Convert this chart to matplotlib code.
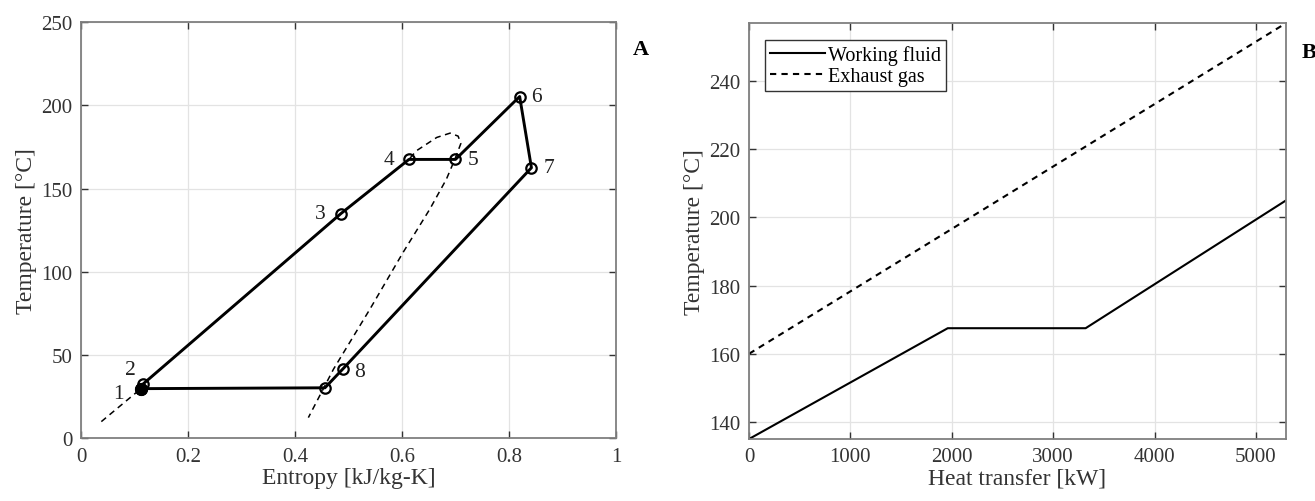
import numpy as np
import matplotlib
matplotlib.use("Agg")
import matplotlib.pyplot as plt

plt.rcParams["font.family"] = ["Liberation Serif", "DejaVu Serif"]

# --- A: T-s diagram of the cycle (state points 1..8 plus the unlabeled 9) ---
cycle_s = [0.112, 0.115, 0.486, 0.613, 0.700, 0.820, 0.842, 0.490, 0.456, 0.112]
cycle_T = [29.8, 32.3, 135.0, 167.5, 167.5, 205.3, 162.5, 41.8, 30.3, 29.8]
state_labels = ["1", "2", "3", "4", "5", "6", "7", "8"]

# saturation dome (dashed)
dome_s = [0.038, 0.112, 0.115, 0.486, 0.613, 0.627, 0.665, 0.690, 0.705, 0.710,
          0.699, 0.683, 0.652, 0.602, 0.540, 0.472, 0.425]
dome_T = [10.0, 29.8, 32.3, 135.0, 167.5, 172.7, 180.7, 183.3, 181.5, 177.0,
          167.7, 155.6, 137.6, 111.6, 77.5, 41.5, 12.4]

# --- B: temperature vs heat transfer ---
q_wf = [0, 1960, 3320, 5297]
t_wf = [135.0, 167.5, 167.5, 205.0]
q_gas = [0, 5297]
t_gas = [160.0, 257.0]

tick_col = "#333333"
spine_col = "#7f7f7f"
grid_col = "#e3e3e3"

fig = plt.figure(figsize=(13.15, 5.02), dpi=100)
axA = fig.add_axes([0.0616, 0.125, 0.4068, 0.829])
axB = fig.add_axes([0.5696, 0.1235, 0.4084, 0.8285])

for ax in (axA, axB):
    ax.grid(True, color=grid_col, linewidth=0.9)
    ax.set_axisbelow(True)
    ax.tick_params(direction="in", top=True, right=True, labelsize=15,
                   colors=tick_col, length=5, width=1.0, pad=6)
    for sp in ax.spines.values():
        sp.set_color(spine_col)
        sp.set_linewidth(1.3)

# panel A
axA.plot(dome_s, dome_T, color="black", linestyle=(0, (4, 3)), linewidth=1.1)
axA.plot(cycle_s, cycle_T, color="black", linewidth=2.1, marker="o",
         markersize=7.5, markerfacecolor="none", markeredgewidth=1.6)
axA.plot(cycle_s[0], cycle_T[0], "o", color="black", markersize=8.5)

offsets = {"1": (-0.042, -3), "2": (-0.022, 9), "3": (-0.038, 0), "4": (-0.038, 0),
           "5": (0.032, 0), "6": (0.032, 0), "7": (0.032, 0), "8": (0.030, -2)}
for i, lab in enumerate(state_labels):
    dx, dy = offsets[lab]
    axA.text(cycle_s[i] + dx, cycle_T[i] + dy, lab, fontsize=15.5,
             ha="center", va="center", color="#222222")

axA.set_xlim(0, 1)
axA.set_ylim(0, 250)
axA.set_xticks([0, 0.2, 0.4, 0.6, 0.8, 1])
axA.set_xticklabels(["0", "0.2", "0.4", "0.6", "0.8", "1"])
axA.set_yticks([0, 50, 100, 150, 200, 250])
axA.set_xlabel("Entropy [kJ/kg-K]", fontsize=17, color=tick_col, labelpad=1)
axA.set_ylabel("Temperature [°C]", fontsize=17, color=tick_col, labelpad=3)
fig.text(0.4875, 0.90, "A", fontsize=16, fontweight="bold", ha="center", va="center")

# panel B
axB.plot(q_wf, t_wf, color="black", linewidth=1.5, label="Working fluid")
axB.plot(q_gas, t_gas, color="black", linewidth=1.5, linestyle=(0, (3, 2.5)),
         label="Exhaust gas")
axB.set_xlim(0, 5297)
axB.set_ylim(135, 257)
axB.set_xticks([0, 1000, 2000, 3000, 4000, 5000])
axB.set_yticks([140, 160, 180, 200, 220, 240])
axB.set_xlabel("Heat transfer [kW]", fontsize=17, color=tick_col, labelpad=1)
axB.set_ylabel("Temperature [°C]", fontsize=17, color=tick_col, labelpad=3)
leg = axB.legend(loc="upper left", bbox_to_anchor=(0.03, 0.96), fontsize=14.5,
                 fancybox=False, edgecolor="#333333", framealpha=1,
                 handlelength=2.7, handletextpad=0.15, borderpad=0.25,
                 labelspacing=0.1, borderaxespad=0)
leg.get_frame().set_linewidth(1.0)
fig.text(0.9955, 0.895, "B", fontsize=16, fontweight="bold", ha="center", va="center")

fig.savefig("out.png", dpi=100)
